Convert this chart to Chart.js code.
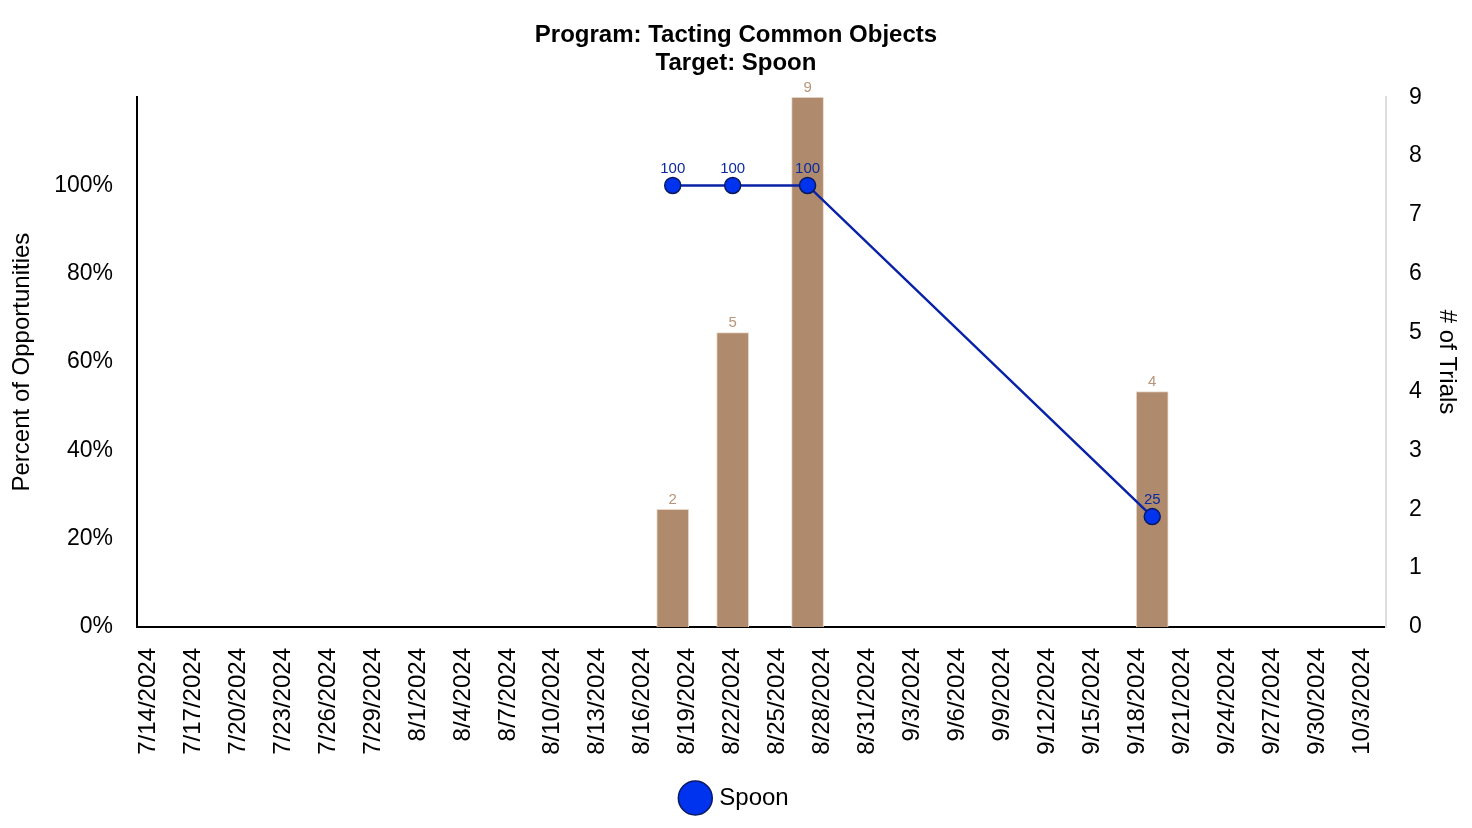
<!DOCTYPE html>
<html lang="en">
<head>
    <meta charset="UTF-8">
    <title>Tacting Common Objects</title>
    <style>
        body { margin: 0; background: #fff; }
        .chart-container { position: relative; width: 1472px; height: 828px; }
    </style>
    <script src="https://cdn.jsdelivr.net/npm/chart.js"></script>
</head>
<body>

<div class="chart-container">
    <canvas id="spoonChart"></canvas>
</div>

<script>
    // Data
    const sessionDates = ['8/18/2024', '8/22/2024', '8/27/2024', '9/19/2024'];
    const percentCorrect = [100, 100, 100, 25];
    const trialCounts = [2, 5, 9, 4];

    const tickDates = [
        '7/14/2024', '7/17/2024', '7/20/2024', '7/23/2024', '7/26/2024', '7/29/2024',
        '8/1/2024', '8/4/2024', '8/7/2024', '8/10/2024', '8/13/2024', '8/16/2024',
        '8/19/2024', '8/22/2024', '8/25/2024', '8/28/2024', '8/31/2024', '9/3/2024',
        '9/6/2024', '9/9/2024', '9/12/2024', '9/15/2024', '9/18/2024', '9/21/2024',
        '9/24/2024', '9/27/2024', '9/30/2024', '10/3/2024'
    ];

    const DAY = 86400000;
    const FONT = '"Liberation Sans", Arial, Helvetica, sans-serif';

    function parseDate(s) {
        const p = s.split('/').map(Number);
        return Date.UTC(p[2], p[0] - 1, p[1]);
    }
    function formatDate(ms) {
        const d = new Date(ms);
        return (d.getUTCMonth() + 1) + '/' + d.getUTCDate() + '/' + d.getUTCFullYear();
    }

    const xs = sessionDates.map(parseDate);

    // простые подписи значений над столбцами и точками
    const valueLabels = {
        id: 'valueLabels',
        afterDatasetsDraw(chart) {
            const ctx = chart.ctx;
            ctx.save();
            ctx.textAlign = 'center';
            ctx.textBaseline = 'bottom';
            ctx.font = '15px ' + FONT;
            chart.data.datasets.forEach((ds, i) => {
                const meta = chart.getDatasetMeta(i);
                meta.data.forEach((el, j) => {
                    const v = ds.data[j].y;
                    if (ds.type === 'bar') {
                        ctx.fillStyle = '#b8957a';
                        ctx.fillText(v, el.x, el.y - 2);
                    } else {
                        ctx.fillStyle = '#0b2a9e';
                        ctx.fillText(v, el.x, el.y - 9);
                    }
                });
            });
            ctx.restore();
        }
    };

    const ctx = document.getElementById('spoonChart').getContext('2d');
    new Chart(ctx, {
        data: {
            datasets: [
                {
                    type: 'line',
                    label: 'Spoon',
                    data: xs.map((x, i) => ({ x: x, y: percentCorrect[i] })),
                    yAxisID: 'y',
                    borderColor: '#0a22a8',
                    borderWidth: 2.5,
                    pointStyle: 'circle',
                    pointRadius: 8,
                    pointBackgroundColor: '#0033ee',
                    pointBorderColor: '#0a1a60',
                    pointBorderWidth: 1.5,
                    tension: 0,
                    order: 0
                },
                {
                    type: 'bar',
                    label: 'Trials',
                    data: xs.map((x, i) => ({ x: x, y: trialCounts[i] })),
                    yAxisID: 'y1',
                    backgroundColor: '#af8a6c',
                    borderColor: '#e8d8c8',
                    borderWidth: 1,
                    barThickness: 32,
                    order: 1
                }
            ]
        },
        options: {
            responsive: true,
            maintainAspectRatio: false,
            animation: false,
            layout: { padding: { top: 5, bottom: 8, left: 0, right: 0 } },
            plugins: {
                title: {
                    display: true,
                    text: ['Program: Tacting Common Objects', 'Target: Spoon'],
                    color: '#000',
                    font: { family: FONT, size: 24, weight: 'bold', lineHeight: 1.17 },
                    padding: { top: 16, bottom: 20 }
                },
                legend: {
                    position: 'bottom',
                    labels: {
                        color: '#000',
                        usePointStyle: true,
                        font: { family: FONT, size: 24 },
                        filter: item => item.text === 'Spoon'
                    }
                },
                tooltip: { enabled: false }
            },
            scales: {
                x: {
                    type: 'linear',
                    offset: false,
                    min: parseDate('7/14/2024') - 0.75 * DAY,
                    max: parseDate('10/3/2024') + 1.6 * DAY,
                    afterBuildTicks: scale => {
                        scale.ticks = tickDates.map(d => ({ value: parseDate(d) }));
                    },
                    afterFit: scale => { scale.height = 149; },
                    grid: { display: false, drawTicks: false },
                    border: { display: true, color: '#000', width: 2 },
                    ticks: {
                        color: '#000',
                        font: { family: FONT, size: 24 },
                        maxRotation: 90,
                        minRotation: 90,
                        padding: 21,
                        callback: v => formatDate(v)
                    }
                },
                y: {
                    position: 'left',
                    min: 0,
                    max: 120,
                    afterFit: scale => { scale.width = 137; },
                    grid: { display: false, drawTicks: false },
                    border: { display: true, color: '#000', width: 2 },
                    ticks: {
                        stepSize: 20,
                        color: '#000',
                        font: { family: FONT, size: 23 },
                        padding: 24,
                        callback: v => (v > 100 ? null : v + '%')
                    },
                    title: {
                        display: true,
                        text: 'Percent of Opportunities',
                        color: '#000',
                        font: { family: FONT, size: 24 },
                        padding: { top: 8, bottom: 0 }
                    }
                },
                y1: {
                    position: 'right',
                    min: 0,
                    max: 9,
                    afterFit: scale => { scale.width = 86; },
                    grid: { display: false, drawTicks: false },
                    border: { display: true, color: '#dddddd', width: 2 },
                    ticks: {
                        stepSize: 1,
                        color: '#000',
                        font: { family: FONT, size: 23 },
                        padding: 23
                    },
                    title: {
                        display: true,
                        text: '# of Trials',
                        color: '#000',
                        font: { family: FONT, size: 24 },
                        padding: { top: 11, bottom: 0 }
                    }
                }
            }
        },
        plugins: [valueLabels]
    });
</script>

</body>
</html>
